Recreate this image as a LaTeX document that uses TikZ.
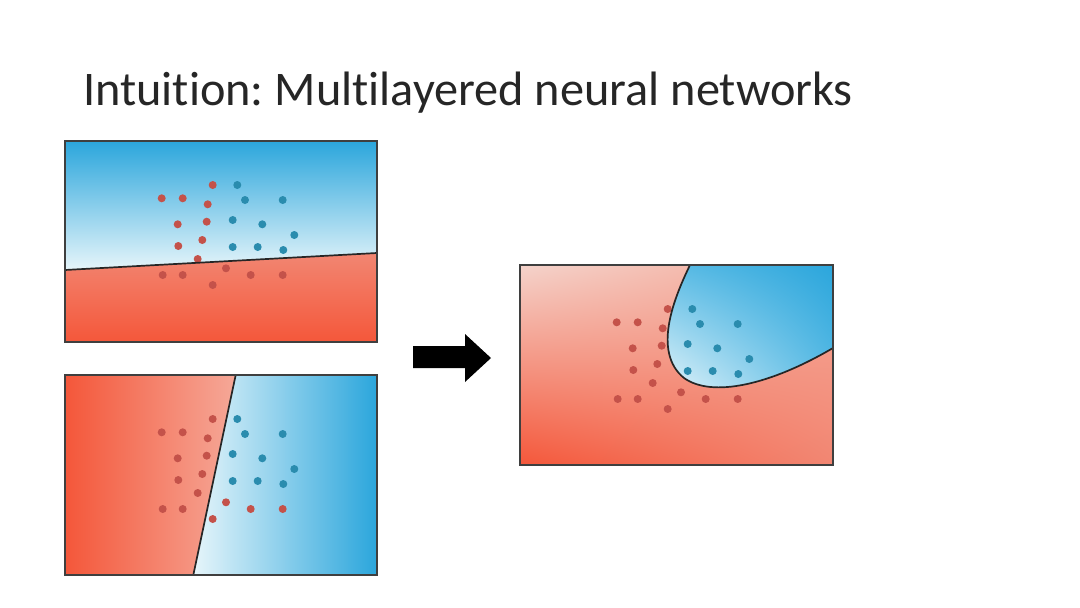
\documentclass[tikz,border=0pt]{standalone}
\usepackage{fontspec}
\usetikzlibrary{shadings}
\setmainfont[RawFeature={-liga,-calt,-dlig,-clig}]{Carlito}
\frenchspacing
\definecolor{bluedark}{HTML}{2BA6DC}
\definecolor{bluemid}{HTML}{5CBCE5}
\definecolor{bluelight}{HTML}{E6F5FA}
\definecolor{reddeep}{HTML}{F4573A}
\definecolor{redmid}{HTML}{F28672}
\definecolor{redlight}{HTML}{F5A898}
\definecolor{redpale}{HTML}{F4D3CB}
\definecolor{dotred}{HTML}{C4524A}
\definecolor{dotblue}{HTML}{2A8CAE}
\definecolor{framegray}{HTML}{3F3F3F}
\definecolor{titlegray}{HTML}{262626}
\tikzset{
  panelframe/.style={draw=framegray,line width=1.7pt},
  boundary/.style={draw=black!85,line width=1.7pt},
  reddot/.style={fill=dotred},
  bluedot/.style={fill=dotblue},
  blockarrow/.style={fill=black},
  titletext/.style={anchor=base west,inner sep=0pt,text=titlegray,font=\fontsize{48.3}{56}\selectfont}
}
\newcommand{\pointcloud}{%
  \foreach \px/\py in {96.7/57.3,117.7/57.3,147.7/44,142.7/63.3,112.7/83.3,141.7/80.7,113.3/105,137.3/99,132.7/118,97.7/134,117.7/134,147.7/144,161/127.3,185.7/134,217.7/134}
    {\fill[reddot] (\px,\py) circle[radius=4];}
  \foreach \px/\py in {172.3/44,180/59,217.7/59,167.7/79,197.3/83.3,229.3/94,167.7/106,192.7/106,218.3/109}
    {\fill[bluedot] (\px,\py) circle[radius=4];}
}
\begin{document}
\begin{tikzpicture}[x=1pt,y=-1pt]
\useasboundingbox[fill=white] (0,0) rectangle (1080,608);

% title
\node[titletext] (title) at (83,105) {Intuition: Multilayered neural networks};

% ---- top-left panel ----
\begin{scope}
  \clip (65,141) -- (377,141) -- (377,253) -- (65,270) -- cycle;
  \shade[top color=bluedark, bottom color=bluelight] (65,141) rectangle (377,270);
\end{scope}
\begin{scope}
  \clip (65,270) -- (377,253) -- (377,342) -- (65,342) -- cycle;
  \shade[top color=redmid, bottom color=reddeep] (65,253) rectangle (377,342);
\end{scope}
\begin{scope}[shift={(65,141)}]
  \pointcloud
\end{scope}
\draw[boundary] (65,270) -- (377,253);
\draw[panelframe] (65,141) rectangle (377,342);

% ---- bottom-left panel ----
\begin{scope}
  \clip (65,375) -- (235.7,375) -- (193.3,575) -- (65,575) -- cycle;
  \shade[left color=reddeep, right color=redlight] (65,375) rectangle (236,575);
\end{scope}
\begin{scope}
  \clip (235.7,375) -- (377,375) -- (377,575) -- (193.3,575) -- cycle;
  \shade[left color=bluelight, right color=bluedark] (193,375) rectangle (377,575);
\end{scope}
\begin{scope}[shift={(65,375)}]
  \pointcloud
\end{scope}
\draw[boundary] (235.7,375) -- (193.3,575);
\draw[panelframe] (65,375) rectangle (377,575);

% ---- arrow ----
\fill[blockarrow] (413,346) -- (465,346) -- (465,334) -- (491,358) -- (465,382) -- (465,368) -- (413,368) -- cycle;

% ---- right panel ----
\shade[upper left=redpale, lower left=reddeep, upper right=redlight, lower right=redmid] (520,265) rectangle (833,465);
\begin{scope}
  \clip (690,265) .. controls (674,298) and (652,352) .. (684,378)
        .. controls (712,398) and (770,385) .. (833,348) -- (833,265) -- cycle;
  \shade[upper left=bluemid, upper right=bluedark, lower left=bluelight, lower right=bluemid] (664,265) rectangle (833,392);
\end{scope}
\begin{scope}[shift={(520,265)}]
  \pointcloud
\end{scope}
\draw[boundary] (690,265) .. controls (674,298) and (652,352) .. (684,378)
        .. controls (712,398) and (770,385) .. (833,348);
\draw[panelframe] (520,265) rectangle (833,465);
\end{tikzpicture}
\end{document}
